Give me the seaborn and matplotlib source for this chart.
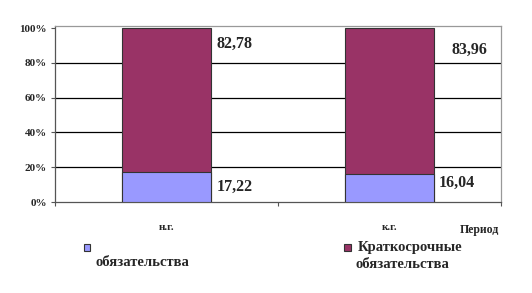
import matplotlib
matplotlib.use("Agg")
import matplotlib.pyplot as plt
import seaborn as sns
import pandas as pd
from matplotlib.patches import Rectangle

categories = ["н.г.", "к.г."]
long_term = [17.22, 16.04]
short_term = [82.78, 83.96]
series_names = ["\nобязательства", "Краткосрочные\nобязательства"]
y_ticks = [0, 20, 40, 60, 80, 100]
y_tick_labels = ["0%", "20%", "40%", "60%", "80%", "100%"]
x_axis_title = "Период"

sns.set_style("white")
plt.rcParams["font.family"] = ["Liberation Serif", "DejaVu Serif"]
plt.rcParams["font.weight"] = "bold"

c_low = "#9999FF"
c_high = "#993366"

df = pd.DataFrame({"cat": categories, "low": long_term, "high": short_term})
df["total"] = df["low"] + df["high"]

fig = plt.figure(figsize=(5.32, 2.93), dpi=100)
ax = fig.add_axes([55/532, 91/293, 446/532, 176/293])

for y in y_ticks[1:-1]:
    ax.axhline(y, color="black", lw=0.9, zorder=0)

sns.barplot(data=df, x="cat", y="total", color=c_high, width=0.395,
            edgecolor="#333333", linewidth=0.8, ax=ax, saturation=1, zorder=2)
sns.barplot(data=df, x="cat", y="low", color=c_low, width=0.395,
            edgecolor="#333333", linewidth=0.8, ax=ax, saturation=1, zorder=3)

ax.set_ylim(0, 101.2)
ax.set_xlim(-0.5, 1.5)
ax.set_yticks(y_ticks)
ax.set_yticklabels(y_tick_labels, fontsize=8, fontweight="bold")
ax.set_xticks([-0.5, 0.5, 1.5])
ax.set_xticklabels([])
ax.tick_params(axis="both", direction="out", length=3, width=0.8, color="#555555",
               left=True, bottom=True, pad=3)
for s in ["top", "right"]:
    ax.spines[s].set_color("#999999")
    ax.spines[s].set_linewidth(0.9)
for s in ["left", "bottom"]:
    ax.spines[s].set_color("#555555")
    ax.spines[s].set_linewidth(0.9)
ax.set_xlabel("")
ax.set_ylabel("")

for i, c in enumerate(categories):
    ax.text(i, -14.5, c, ha="center", va="center", fontsize=8, fontweight="bold")
ax.text(1.49, -16, x_axis_title, ha="right", va="center", fontsize=8.5, fontweight="bold",
        transform=ax.transData)

# value labels
offsets_hi = [(0.225, 91), (0.28, 87.5)]
offsets_lo = [(0.225, 8.5), (0.22, 11)]
for i in range(len(categories)):
    ax.text(i + offsets_hi[i][0], offsets_hi[i][1], f"{short_term[i]:.2f}".replace(".", ","),
            ha="left", va="center", fontsize=11.5, fontweight="bold")
    ax.text(i + offsets_lo[i][0], offsets_lo[i][1], f"{long_term[i]:.2f}".replace(".", ","),
            ha="left", va="center", fontsize=11.5, fontweight="bold")

# legend
leg_items = [(87, c_low, series_names[0]), (347, c_high, series_names[1])]
for xpx, col, name in leg_items:
    fig.patches.append(Rectangle((xpx/532 - 3.5/532, (293-251)/293), 7/532, 7/293,
                                 transform=fig.transFigure, facecolor=col,
                                 edgecolor="#333333", lw=0.8))
lines0 = series_names[0].split("\n")
fig.text(96/532, 1 - 263/293, lines0[1], ha="left", va="center", fontsize=10.5, fontweight="bold")
lines1 = series_names[1].split("\n")
fig.text(358/532, 1 - 248/293, lines1[0], ha="left", va="center", fontsize=10.5, fontweight="bold")
fig.text(355/532, 1 - 264/293, lines1[1], ha="left", va="center", fontsize=10.5, fontweight="bold")

fig.savefig("out.png", dpi=100)
